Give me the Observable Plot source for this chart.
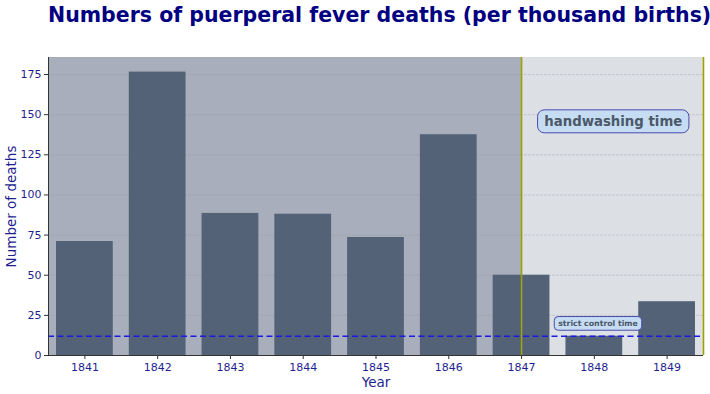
<!DOCTYPE html>
<html><head><meta charset="utf-8">
<script src="https://cdn.jsdelivr.net/npm/d3@7"></script>
<script src="https://cdn.jsdelivr.net/npm/@observablehq/plot@0.6"></script>
<style>
body{margin:0;background:#fff;font-family:"DejaVu Sans",sans-serif;}
#title{box-sizing:border-box;width:710px;height:40px;padding-left:48px;padding-top:2px;text-align:center;font-weight:bold;font-size:20.5px;line-height:26px;color:#000080;white-space:nowrap;}
#chart svg{display:block;}
</style></head><body>
<div id="title">Numbers of puerperal fever deaths (per thousand births)</div>
<div id="chart"></div>
<script>
const years = [1841, 1842, 1843, 1844, 1845, 1846, 1847, 1848, 1849];
const deaths = [71, 176.5, 88.5, 88, 73.5, 137.5, 50, 12, 33.5];
const yTicks = [0, 25, 50, 75, 100, 125, 150, 175];
const xDomain = [1840.5, 1849.5];
const yMax = 185.6;
const handwashingStart = 1847;
const controlLevel = 12;
const annotations = [
  {label: "handwashing time", x: 1848.26, y: 145.7, size: 13.3},
  {label: "strict control time", x: 1848.05, y: 20, size: 7.8}
];

const data = years.map((y, i) => ({year: y, deaths: deaths[i]}));
const spans = [
  {x1: xDomain[0], x2: handwashingStart, fill: "#a8aebb"},
  {x1: handwashingStart, x2: xDomain[1], fill: "#dcdfe4"}
];
const barW = 0.39;
const navy = "#1f1f8f";

const plot = Plot.plot({
  width: 710,
  height: 354,
  marginLeft: 48,
  marginRight: 7,
  marginTop: 17,
  marginBottom: 39,
  style: {fontFamily: "DejaVu Sans", fontSize: "11px", color: navy, background: "#fff"},
  x: {domain: xDomain, ticks: years, tickFormat: "d"},
  y: {domain: [0, yMax], ticks: yTicks},
  marks: [
    Plot.rect(spans, {x1: "x1", x2: "x2", y1: 0, y2: yMax, fill: d => d.fill}),
    Plot.gridY(yTicks, {stroke: "#8a909c", strokeOpacity: 0.3, strokeWidth: 1, strokeDasharray: "3,1"}),
    Plot.rectY(data, {x1: d => d.year - barW, x2: d => d.year + barW, y: "deaths", fill: "#536277"}),
    Plot.ruleX([handwashingStart, xDomain[1]], {stroke: "#a0a000", strokeWidth: 1.6}),
    Plot.ruleY([controlLevel], {stroke: "#1a1ae6", strokeWidth: 1.6, strokeDasharray: "6,3.5"}),
    Plot.ruleX([xDomain[0]], {stroke: "#333", strokeWidth: 1}),
    Plot.ruleY([0], {stroke: "#333", strokeWidth: 1}),
    Plot.axisX({ticks: years, tickFormat: "d", tickSize: 4, tickPadding: 4, stroke: "#333", label: "Year", labelAnchor: "center", labelArrow: "none", labelOffset: 31, fill: navy}),
    Plot.axisY({ticks: yTicks, tickSize: 4, tickPadding: 3, stroke: "#333", label: "Number of deaths", labelAnchor: "center", labelArrow: "none", labelOffset: 42, fill: navy}),
    Plot.text(annotations, {x: "x", y: "y", text: "label", fontSize: d => d.size, fontWeight: "bold", fill: "#4a5868", className: "anno"})
  ]
});
document.getElementById("chart").appendChild(plot);

d3.select(plot).selectAll("[aria-label='x-axis label'] text, [aria-label='y-axis label'] text")
  .style("font-size", "13.5px").attr("fill", navy);

d3.select(plot).selectAll(".anno text").each(function() {
  const t = this;
  const fs = parseFloat(t.getAttribute("font-size") || getComputedStyle(t).fontSize);
  const b = t.getBBox();
  const padX = fs * 0.5;
  const padY = fs * 0.3;
  const r = document.createElementNS("http://www.w3.org/2000/svg", "rect");
  r.setAttribute("x", b.x - padX);
  r.setAttribute("y", b.y - padY);
  r.setAttribute("width", b.width + 2 * padX);
  r.setAttribute("height", b.height + 2 * padY);
  r.setAttribute("rx", fs * 0.5);
  r.setAttribute("fill", "#c6dcf3");
  r.setAttribute("stroke", "#4b4bab");
  r.setAttribute("stroke-width", 1);
  const tr = t.getAttribute("transform");
  if (tr) r.setAttribute("transform", tr);
  t.parentNode.insertBefore(r, t);
});
</script>
</body></html>
